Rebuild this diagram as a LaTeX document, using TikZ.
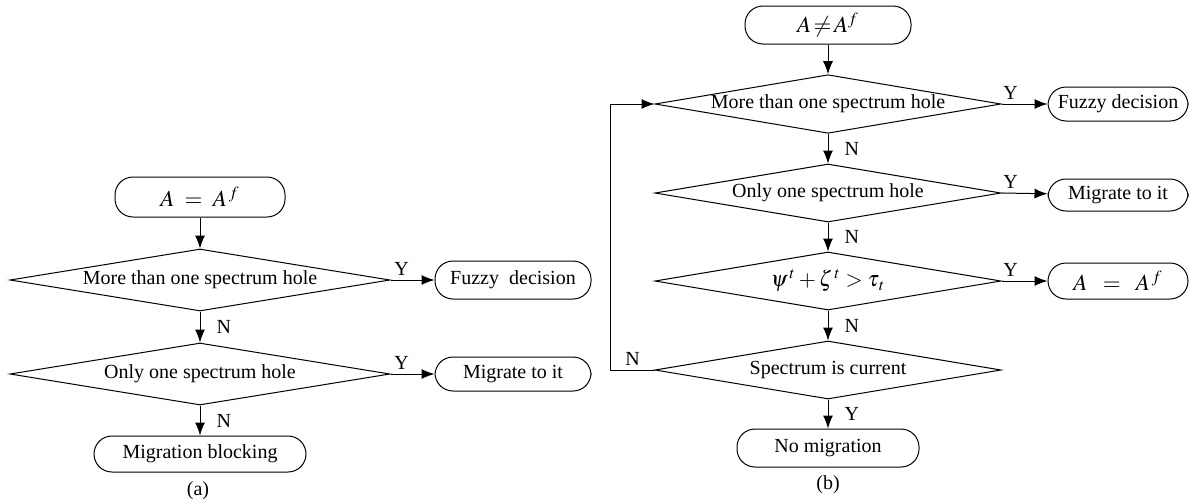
\documentclass[tikz,border=0pt]{standalone}
\usepackage{mathptmx}
\usepackage{fontspec}
\setmainfont{Liberation Serif}
\usetikzlibrary{shapes.geometric,arrows.meta}

\begin{document}
\begin{tikzpicture}[->,>={Latex[length=6.5pt,width=5pt]},x=0.5pt,y=-0.5pt,line width=0.5pt,font=\fontsize{10}{12}\selectfont]
	\tikzstyle{decision} = [diamond,draw,aspect=5.8,inner sep=0pt,minimum width=190pt,minimum height=31pt]
	\tikzstyle{term} = [rectangle,draw,rounded corners=9pt,inner sep=0pt]
	\tikzstyle{lab} = [inner sep=2pt]

	\useasboundingbox (0,0) rectangle (1197,503);

	\node[term,minimum width=85pt,minimum height=20pt] (astart) at (200,197) {\fontsize{11.5}{13}\selectfont $A \;=\; A^{\,f}$};
	\node[decision] (amore) at (200,280) {More than one spectrum hole};
	\node[decision] (aonly) at (200,374) {Only one spectrum hole};
	\node[term,minimum width=106pt,minimum height=18pt] (ablock) at (200,454) {Migration blocking};
	\node[term,minimum width=78pt,minimum height=19pt] (afuzzy) at (513,280) {Fuzzy\ \ decision};
	\node[term,minimum width=78pt,minimum height=17pt] (amigrate) at (513,374) {Migrate to it};
	\node (acap) at (198,491) {(a)};

	\path (astart) edge (amore);
	\path (amore) edge node[lab,right=6pt] {N} (aonly);
	\path (aonly) edge node[lab,right=6pt] {N} (ablock);
	\path (amore.east) edge node[lab,above,pos=0.25] {Y} (afuzzy);
	\path (aonly.east) edge node[lab,above,pos=0.25] {Y} (amigrate);

	\node[term,minimum width=83pt,minimum height=19pt] (bstart) at (828,25) {\fontsize{11.5}{13}\selectfont $A\!\neq\! A^{f}$};
	\node[decision,minimum width=173pt,minimum height=29pt] (bmore) at (828,104) {More than one spectrum hole};
	\node[decision,minimum width=173pt,minimum height=29pt] (bonly) at (828,193) {Only one spectrum hole};
	\node[decision,minimum width=173pt,minimum height=29pt] (bpsi) at (828,281) {\fontsize{11}{13}\selectfont $\psi^{\,t} + \zeta^{\,t} > \tau_{\,t}$};
	\node[decision,minimum width=173pt,minimum height=29pt] (bcur) at (828,370) {Spectrum is current};
	\node[term,minimum width=91pt,minimum height=19pt] (bnomig) at (828,448) {No migration};
	\node[term,minimum width=70pt,minimum height=17pt] (bfuzzy) at (1118,104) {Fuzzy decision};
	\node[term,minimum width=70pt,minimum height=16pt] (bmigrate) at (1118,195) {Migrate to it};
	\node[term,minimum width=70pt,minimum height=18pt] (bequal) at (1118,281) {\fontsize{11.5}{13}\selectfont $A \;\;=\;\; A^{\,f}$};
	\node (bcap) at (828,485) {(b)};

	\path (bstart) edge (bmore);
	\path (bmore) edge node[lab,right=6pt] {N} (bonly);
	\path (bonly) edge node[lab,right=6pt] {N} (bpsi);
	\path (bpsi) edge node[lab,right=6pt] {N} (bcur);
	\path (bcur) edge node[lab,right=6pt] {Y} (bnomig);
	\path (bmore.east) edge node[lab,above,pos=0.2] {Y} (bfuzzy);
	\path (bonly.east) edge node[lab,above,pos=0.2] {Y} (bmigrate);
	\path (bpsi.east) edge node[lab,above,pos=0.2] {Y} (bequal);
	\draw (bcur.west) -- node[lab,above] {N} ++(-44,0) |- (bmore.west);
\end{tikzpicture}
\end{document}
